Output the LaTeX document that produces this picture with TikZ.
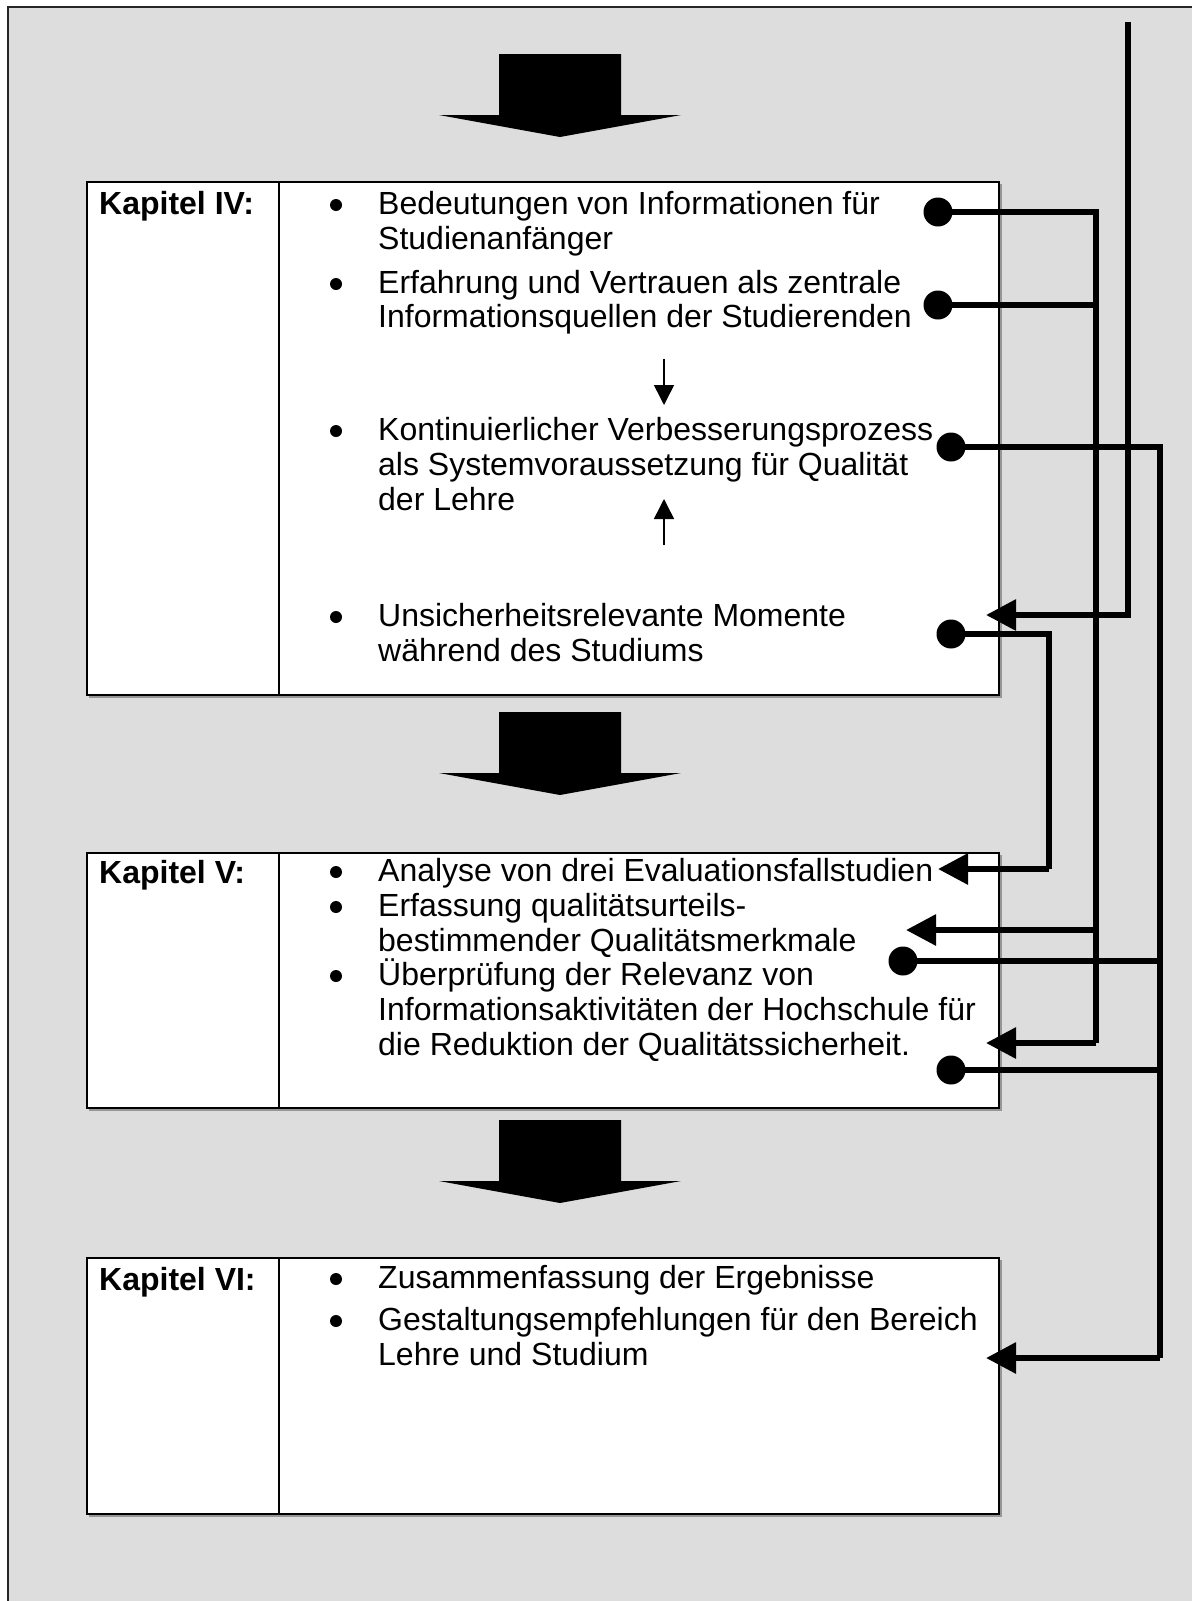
\documentclass[tikz,border=0pt]{standalone}
\usepackage{fontspec}
\setmainfont{Liberation Sans}
\usetikzlibrary{arrows.meta}
\definecolor{panel}{RGB}{221,221,221}
\definecolor{shade}{RGB}{150,150,150}

\begin{document}
\begin{tikzpicture}[x=1pt,y=-1pt,
  txt/.style={anchor=base west, inner sep=0pt, font=\fontsize{32}{35}\selectfont},
  lbl/.style={anchor=base west, inner sep=0pt, font=\fontsize{32}{35}\selectfont\bfseries},
  bul/.style={circle, fill=black, minimum size=12pt, inner sep=0pt},
  chapbox/.style={draw=black, line width=2pt, fill=white},
  boxshadow/.style={draw=shade, line width=2pt},
  bigarrow/.style={fill=black},
  link/.style={line width=6pt, line cap=butt, line join=miter},
  tipend/.style={-{Triangle[length=30pt,width=30pt]}},
  thinarrow/.style={line width=1.5pt, -{Triangle[length=20pt,width=20pt]}},
  dot/.style={circle, fill=black, minimum size=29pt, inner sep=0pt},
]
\useasboundingbox (0,0) rectangle (1192,1601);

% panel background with its top and left edge
\fill[panel] (8,7) rectangle (1192,1601);
\draw[line width=2pt, black!85] (8,1601) -- (8,7) -- (1192,7);

% downward block arrows between the chapters
\foreach \y in {54, 712, 1120} {
  \fill[bigarrow] (499,\y) -- (621,\y) -- (621,\y+61) -- (681,\y+61)
    -- (560,\y+83) -- (439,\y+61) -- (499,\y+61) -- cycle;
}

% chapter boxes
\foreach \t/\b in {182/695, 853/1108, 1258/1514} {
  \draw[boxshadow] (89,\b+2) -- (1001,\b+2) -- (1001,\t+2);
  \draw[chapbox] (87,\t) rectangle (999,\b);
  \draw[line width=2pt] (279,\t) -- (279,\b);
}

% Kapitel IV
\node[lbl] (l4) at (99,214) {Kapitel IV:};
\node[bul] (p41) at (336,205) {};
\node[txt] (t41a) at (378,214) {Bedeutungen von Informationen für};
\node[txt] (t41b) at (378,249) {Studienanfänger};
\node[bul] (p42) at (336,284) {};
\node[txt] (t42a) at (378,293) {Erfahrung und Vertrauen als zentrale};
\node[txt] (t42b) at (378,327) {Informationsquellen der Studierenden};
\node[bul] (p43) at (336,431) {};
\node[txt] (t43a) at (378,440) {Kontinuierlicher Verbesserungsprozess};
\node[txt] (t43b) at (378,475) {als Systemvoraussetzung für Qualität};
\node[txt] (t43c) at (378,510) {der Lehre};
\node[bul] (p44) at (336,617) {};
\node[txt] (t44a) at (378,626) {Unsicherheitsrelevante Momente};
\node[txt] (t44b) at (378,661) {während des Studiums};

% small arrows pointing at the improvement process
\coordinate (sd0) at (664,359);
\coordinate (sd1) at (664,405);
\coordinate (su0) at (664,545);
\coordinate (su1) at (664,499);
\draw[thinarrow] (sd0) -- (sd1);
\draw[thinarrow] (su0) -- (su1);

% Kapitel V
\node[lbl] (l5) at (99,883) {Kapitel V:};
\node[bul] (p51) at (336,872) {};
\node[txt] (t51a) at (378,881) {Analyse von drei Evaluationsfallstudien};
\node[bul] (p52) at (336,907) {};
\node[txt] (t52a) at (378,916) {Erfassung qualitätsurteils-};
\node[txt] (t52b) at (378,951) {bestimmender Qualitätsmerkmale};
\node[bul] (p53) at (336,976) {};
\node[txt] (t53a) at (378,985) {Überprüfung der Relevanz von};
\node[txt] (t53b) at (378,1020) {Informationsaktivitäten der Hochschule für};
\node[txt] (t53c) at (378,1055) {die Reduktion der Qualitätssicherheit.};

% Kapitel VI
\node[lbl] (l6) at (99,1290) {Kapitel VI:};
\node[bul] (p61) at (336,1279) {};
\node[txt] (t61a) at (378,1288) {Zusammenfassung der Ergebnisse};
\node[bul] (p62) at (336,1321) {};
\node[txt] (t62a) at (378,1330) {Gestaltungsempfehlungen für den Bereich};
\node[txt] (t62b) at (378,1365) {Lehre und Studium};

% source dots
\node[dot] (d1) at (938,212) {};
\node[dot] (d2) at (938,305) {};
\node[dot] (d3) at (951,447) {};
\node[dot] (d6) at (951,634) {};
\node[dot] (d4) at (903,961) {};
\node[dot] (d5) at (951,1070) {};

% arrow targets
\coordinate (a4) at (986,615);
\coordinate (a51) at (938,869);
\coordinate (a52) at (906,930);
\coordinate (a53) at (986,1043);
\coordinate (a6) at (986,1358);
\coordinate (top) at (1128,22);

% junctions on the vertical buses
\coordinate (j1a) at (1096,212);
\coordinate (j1b) at (1096,305);
\coordinate (j1c) at (1096,930);
\coordinate (j1d) at (1096,1043);
\coordinate (j2a) at (1160,447);
\coordinate (j2b) at (1160,961);
\coordinate (j2c) at (1160,1070);
\coordinate (j2d) at (1160,1358);
\coordinate (j3a) at (1049,634);
\coordinate (j3b) at (1049,869);

% bus lines
\draw[link, tipend] (top) |- (a4);
\draw[link] (d1.center) -- (j1a) -- (j1d);
\draw[link, tipend] (j1d) -- (a53);
\draw[link] (d2.center) -- (j1b);
\draw[link, tipend] (j1c) -- (a52);
\draw[link] (d3.center) -- (j2a) -- (j2d);
\draw[link, tipend] (j2d) -- (a6);
\draw[link] (d4.center) -- (j2b);
\draw[link] (d5.center) -- (j2c);
\draw[link] (d6.center) -- (j3a) -- (j3b);
\draw[link, tipend] (j3b) -- (a51);
\end{tikzpicture}
\end{document}
